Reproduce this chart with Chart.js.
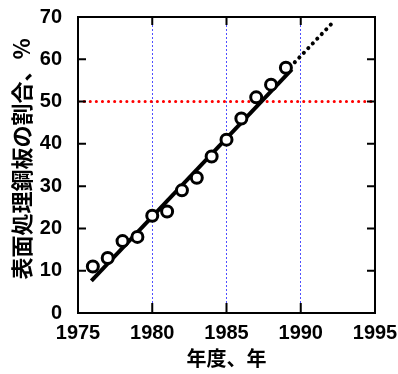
<!DOCTYPE html>
<html>
<head>
<meta charset="utf-8">
<script src="https://cdn.jsdelivr.net/npm/chart.js@4.4.0/dist/chart.umd.min.js"></script>
<style>
  html, body { margin: 0; padding: 0; background: #fff; }
  #wrap { width: 398px; height: 374px; }
</style>
</head>
<body>
<div id="wrap"><canvas id="c" width="398" height="374"></canvas></div>
<script>
/* ===== データ ===== */
const years   = [1976, 1977, 1978, 1979, 1980, 1981, 1982, 1983, 1984, 1985, 1986, 1987, 1988, 1989];
const shares  = [11, 13, 17, 18, 23, 24, 29, 32, 37, 41, 46, 51, 54, 58];

// 回帰直線(実線)と延長部分(点線)
const fitYears   = [1975.9, 1989.4];
const fitShares  = [7.6, 57.6];
const extYears   = [1989.6, 1992.1];
const extShares  = [59.3, 68.5];

// 50% の目安線
const refLevel   = 50;
const xRange     = [1975, 1995];
const yRange     = [0, 70];
const gridYears  = [1980, 1985, 1990];

const xTitle = '年度、年';
const yTitle = '表面処理鋼板の割合、%';

const pts = (xs, ys) => xs.map((x, i) => ({ x, y: ys[i] }));

/* ===== 枠・内向き目盛・縦軸タイトル ===== */
const framePlugin = {
  id: 'frame',
  afterDatasetsDraw (chart) {
    const { ctx, chartArea: a, scales: { x, y } } = chart;
    ctx.save();
    ctx.strokeStyle = '#000';
    ctx.lineWidth = 2;
    ctx.beginPath();
    gridYears.forEach(v => {
      const px = x.getPixelForValue(v);
      ctx.moveTo(px, a.bottom); ctx.lineTo(px, a.bottom - 10);
      ctx.moveTo(px, a.top);    ctx.lineTo(px, a.top + 8);
    });
    for (let v = 10; v < 70; v += 10) {
      const py = y.getPixelForValue(v);
      ctx.moveTo(a.left, py);  ctx.lineTo(a.left + 8, py);
      ctx.moveTo(a.right, py); ctx.lineTo(a.right - 8, py);
    }
    ctx.stroke();
    ctx.strokeRect(a.left, a.top, a.right - a.left, a.bottom - a.top);
    ctx.restore();
  },
  afterDraw (chart) {
    const { ctx } = chart;
    ctx.save();
    ctx.translate(22, 159);
    ctx.rotate(-Math.PI / 2);
    ctx.font = 'bold 22px "Noto Sans CJK JP"';
    ctx.fillStyle = '#000';
    ctx.textAlign = 'center';
    ctx.textBaseline = 'middle';
    ctx.fillText(yTitle, 0, 0);
    ctx.restore();
  }
};

const tickFont = { family: '"Liberation Sans", Arial, sans-serif', size: 20, weight: 'bold' };

new Chart(document.getElementById('c'), {
  type: 'scatter',
  data: {
    datasets: [
      {
        data: pts(years, shares),
        pointStyle: 'circle',
        pointRadius: 5.5,
        pointBorderWidth: 3,
        pointBackgroundColor: '#fff',
        pointBorderColor: '#000',
        order: 0
      },
      {
        data: pts(fitYears, fitShares),
        showLine: true,
        borderColor: '#000',
        borderWidth: 4,
        pointRadius: 0,
        order: 1
      },
      {
        data: pts(extYears, extShares),
        showLine: true,
        borderColor: '#000',
        borderWidth: 4,
        borderDash: [0.1, 6.4],
        borderCapStyle: 'round',
        pointRadius: 0,
        order: 1
      },
      {
        data: pts(xRange, [refLevel, refLevel]),
        showLine: true,
        borderColor: '#ff0000',
        borderWidth: 3,
        borderDash: [0.1, 6],
        borderCapStyle: 'round',
        pointRadius: 0,
        order: 2
      }
    ]
  },
  options: {
    responsive: false,
    animation: false,
    events: [],
    layout: { padding: { left: 0, right: 23, top: 17, bottom: 0 } },
    plugins: { legend: { display: false }, tooltip: { enabled: false } },
    scales: {
      x: {
        type: 'linear',
        min: xRange[0], max: xRange[1],
        afterFit: s => { s.height = 61; s.paddingLeft = 0; s.paddingRight = 0; },
        border: { display: false, dash: [2, 2] },
        grid: {
          drawTicks: false,
          lineWidth: 1,
          color: c => gridYears.includes(c.tick && c.tick.value) ? '#4f4fff' : 'rgba(0,0,0,0)'
        },
        ticks: {
          stepSize: 5, padding: 8, color: '#000', font: tickFont, maxRotation: 0,
          callback: v => String(v)
        },
        title: {
          display: true,
          text: xTitle,
          color: '#000',
          font: { family: '"Noto Sans CJK JP"', size: 20, weight: 'bold' },
          padding: { top: 0 }
        }
      },
      y: {
        min: yRange[0], max: yRange[1],
        afterFit: s => { s.width = 78; s.paddingTop = 0; s.paddingBottom = 0; },
        border: { display: false },
        grid: { display: false },
        ticks: { stepSize: 10, padding: 8, color: '#000', font: tickFont }
      }
    }
  },
  plugins: [framePlugin]
});
</script>
</body>
</html>
